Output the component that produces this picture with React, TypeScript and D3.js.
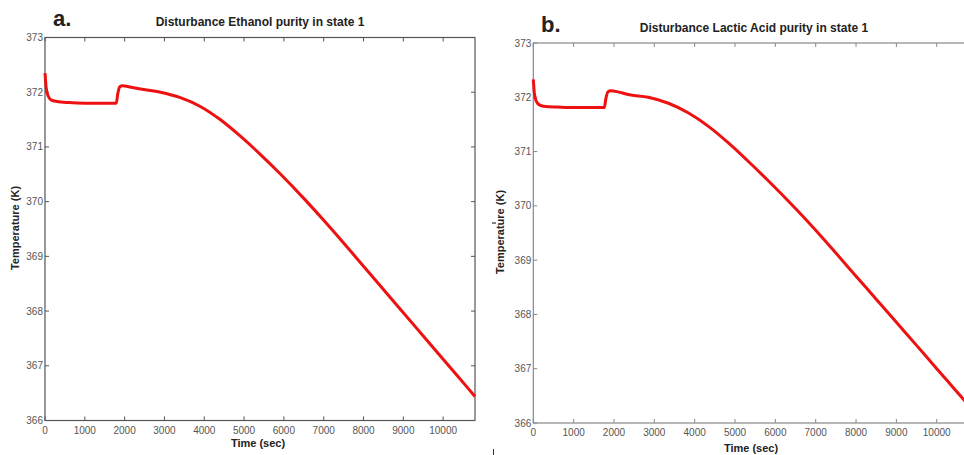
import React from "react";
import * as d3 from "d3";

const xTicks = [0, 1000, 2000, 3000, 4000, 5000, 6000, 7000, 8000, 9000, 10000];
const yTicks = [366, 367, 368, 369, 370, 371, 372, 373];

const timeA = [0, 30, 80, 150, 300, 600, 1000, 1400, 1790, 1830, 1880, 1950, 2100, 2400, 2900, 3400, 3900, 4400, 4900, 5400, 5900, 6500, 7000, 7500, 8000, 8500, 9000, 9500, 10000, 10400, 10800];
const tempA = [372.35, 372.08, 371.93, 371.86, 371.83, 371.81, 371.8, 371.8, 371.8, 371.98, 372.1, 372.12, 372.1, 372.06, 372.0, 371.9, 371.74, 371.5, 371.2, 370.87, 370.515, 370.06, 369.66, 369.245, 368.82, 368.395, 367.97, 367.545, 367.12, 366.78, 366.44];

const timeB = [0, 30, 80, 150, 300, 600, 1000, 1400, 1760, 1800, 1850, 1920, 2100, 2350, 2850, 3350, 3850, 4350, 4850, 5300, 5800, 6500, 7000, 7500, 8000, 8500, 9000, 9500, 10000, 10400, 10800];
const tempB = [372.33, 372.05, 371.92, 371.86, 371.83, 371.82, 371.81, 371.81, 371.81, 371.98, 372.1, 372.12, 372.1, 372.05, 372.0, 371.89, 371.71, 371.46, 371.15, 370.84, 370.48, 369.95, 369.55, 369.13, 368.705, 368.28, 367.855, 367.43, 367.0, 366.66, 366.32];

const panels = [
  {
    letter: "a.",
    title: "Disturbance Ethanol purity in state 1",
    times: timeA,
    temps: tempA,
    left: 45, right: 475, top: 37.5, bottom: 420.5,
    letterX: 53, letterY: 26,
    titleX: 260, titleY: 26,
    yLabelX: 19, yLabelY: 228,
    xLabelX: 258, xLabelY: 447,
    axisColor: "#555",
  },
  {
    letter: "b.",
    title: "Disturbance Lactic Acid purity in state 1",
    times: timeB,
    temps: tempB,
    left: 533.3, right: 969, top: 43, bottom: 423,
    letterX: 541, letterY: 32,
    titleX: 754, titleY: 32,
    yLabelX: 504, yLabelY: 232,
    xLabelX: 751, xLabelY: 452,
    axisColor: "#888",
  },
];

function Panel({ p }: { p: typeof panels[number] }) {
  const x = d3.scaleLinear().domain([0, 10800]).range([p.left, p.right]);
  const y = d3.scaleLinear().domain([366, 373]).range([p.bottom, p.top]);
  const data = p.times.map((t, i) => [t, p.temps[i]] as [number, number]);
  const line = d3
    .line<[number, number]>()
    .x((d) => x(d[0]))
    .y((d) => y(d[1]))
    .curve(d3.curveMonotoneX);
  const tickLen = 4;
  const labelFont = "'Liberation Sans', Arial, sans-serif";
  return (
    <g>
      <text x={p.letterX} y={p.letterY} fontFamily={labelFont} fontWeight="bold" fontSize={22} fill="#222">
        {p.letter}
      </text>
      <text x={p.titleX} y={p.titleY} textAnchor="middle" fontFamily={labelFont} fontWeight="bold" fontSize={12} fill="#222">
        {p.title}
      </text>
      <rect x={p.left} y={p.top} width={p.right - p.left} height={p.bottom - p.top} fill="none" stroke={p.axisColor} strokeWidth={1.2} />
      {xTicks.map((t) => (
        <g key={"x" + t}>
          <line x1={x(t)} x2={x(t)} y1={p.bottom} y2={p.bottom - tickLen} stroke={p.axisColor} />
          <line x1={x(t)} x2={x(t)} y1={p.top} y2={p.top + tickLen} stroke={p.axisColor} />
          <text x={x(t)} y={p.bottom + 13} textAnchor="middle" fontFamily={labelFont} fontSize={10} fill="#555">
            {t}
          </text>
        </g>
      ))}
      {yTicks.map((v) => (
        <g key={"y" + v}>
          <line x1={p.left} x2={p.left + tickLen} y1={y(v)} y2={y(v)} stroke={p.axisColor} />
          <line x1={p.right} x2={p.right - tickLen} y1={y(v)} y2={y(v)} stroke={p.axisColor} />
          <text x={p.left - 2} y={y(v) + 3.5} textAnchor="end" fontFamily={labelFont} fontSize={10} fill="#555">
            {v}
          </text>
        </g>
      ))}
      <path d={line(data) || ""} fill="none" stroke="#ee1111" strokeWidth={3} strokeLinejoin="round" />
      <text
        transform={`translate(${p.yLabelX},${p.yLabelY}) rotate(-90)`}
        textAnchor="middle"
        fontFamily={labelFont}
        fontWeight="bold"
        fontSize={11}
        fill="#222"
      >
        Temperature (K)
      </text>
      <text x={p.xLabelX} y={p.xLabelY} textAnchor="middle" fontFamily={labelFont} fontWeight="bold" fontSize={11} fill="#222">
        Time (sec)
      </text>
    </g>
  );
}

export default function App() {
  return (
    <svg
      width={964}
      height={455}
      style={{ position: "absolute", left: 0, top: 0, background: "#fff" }}
    >
      <rect width={964} height={455} fill="#fff" />
      {panels.map((p) => (
        <Panel key={p.letter} p={p} />
      ))}
      <line x1={492} x2={496} y1={223} y2={223} stroke="#333" strokeWidth={1.2} />
      <line x1={493.5} x2={493.5} y1={449} y2={455} stroke="#333" strokeWidth={1} />
    </svg>
  );
}
